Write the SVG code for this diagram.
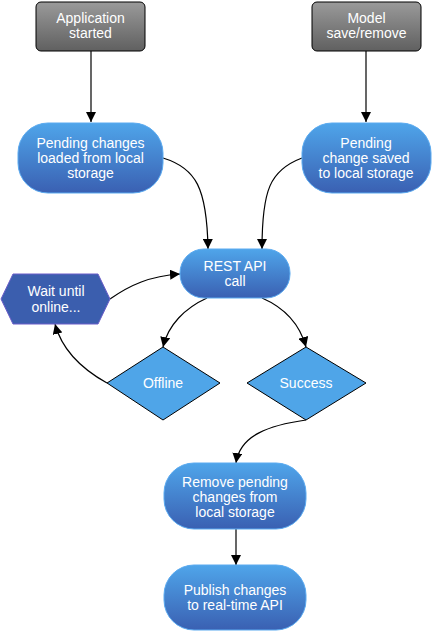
<svg xmlns="http://www.w3.org/2000/svg" width="432" height="631" viewBox="0 0 432 631">
<style>
.t{font-family:"Liberation Sans",Arial,sans-serif;font-size:14px;fill:#ffffff;text-anchor:middle}
.gray{fill:url(#gg);stroke:#000;stroke-width:1}
.blue{fill:url(#bg);stroke:#5aaaf0;stroke-width:1}
.dia{fill:#4fa5e8;stroke:#000;stroke-width:1}
.hex{fill:#3b5eae;stroke:#6a5cc8;stroke-width:1}
.c{fill:none;stroke:#000;stroke-width:1.2}
</style>
<defs>
<linearGradient id="gg" x1="0" y1="0" x2="0" y2="1"><stop offset="0" stop-color="#9a9a9a"/><stop offset="1" stop-color="#606060"/></linearGradient>
<linearGradient id="bg" x1="0" y1="0" x2="0" y2="1"><stop offset="0" stop-color="#4fa5ea"/><stop offset="1" stop-color="#3a60b2"/></linearGradient>
<marker id="ah" viewBox="0 0 10 10" refX="10" refY="5" markerWidth="10" markerHeight="10" markerUnits="userSpaceOnUse" orient="auto"><path d="M0,0 L10,5 L0,10 z" fill="#000"/></marker>
</defs>
<g id="connectors">
<path class="c" d="M91 51 L91 122" marker-end="url(#ah)"/>
<path class="c" d="M366 51 L366 122" marker-end="url(#ah)"/>
<path class="c" d="M163 158 C196 168 207 188 208 249" marker-end="url(#ah)"/>
<path class="c" d="M302 158 C270 170 262 190 262 249" marker-end="url(#ah)"/>
<path class="c" d="M207 298 C185 308 168 325 163 347" marker-end="url(#ah)"/>
<path class="c" d="M262 298 C285 308 300 325 306 347" marker-end="url(#ah)"/>
<path class="c" d="M107 383 C80 368 62 350 55 324" marker-end="url(#ah)"/>
<path class="c" d="M110 299 C130 285 150 276 180 274" marker-end="url(#ah)"/>
<path class="c" d="M306 420 C270 425 240 435 236 463" marker-end="url(#ah)"/>
<path class="c" d="M236 529 L236 565" stroke="#555" marker-end="url(#ah)"/>
</g>
<g id="app-started"><rect class="gray" x="36" y="2" width="109" height="49" rx="5"/><text class="t" x="90.5" y="23">Application</text><text class="t" x="90.5" y="38">started</text></g>
<g id="model-save"><rect class="gray" x="312" y="2" width="109" height="49" rx="5"/><text class="t" x="366.5" y="23">Model</text><text class="t" x="366.5" y="38">save/remove</text></g>
<g id="pending-loaded"><rect class="blue" x="18" y="123" width="145" height="70" rx="30"/><text class="t" x="90.5" y="148">Pending changes</text><text class="t" x="90.5" y="163">loaded from local</text><text class="t" x="90.5" y="178">storage</text></g>
<g id="pending-saved"><rect class="blue" x="302" y="123" width="129" height="70" rx="30"/><text class="t" x="366" y="148">Pending</text><text class="t" x="366" y="163">change saved</text><text class="t" x="366" y="178">to local storage</text></g>
<g id="rest-api"><rect class="blue" x="180" y="249" width="110" height="49" rx="24"/><text class="t" x="235" y="271">REST API</text><text class="t" x="235" y="286">call</text></g>
<g id="wait"><polygon class="hex" points="1,299 13,274 98,274 110,299 98,324 13,324"/><text class="t" x="56" y="296">Wait until</text><text class="t" x="56" y="312">online...</text></g>
<g id="offline"><polygon class="dia" points="107,383 163,347 220,383 163,420"/><text class="t" x="163" y="388">Offline</text></g>
<g id="success"><polygon class="dia" points="247,383 306,347 366,383 306,420"/><text class="t" x="306" y="388">Success</text></g>
<g id="remove"><rect class="blue" x="164" y="463" width="142" height="66" rx="30"/><text class="t" x="235" y="487">Remove pending</text><text class="t" x="235" y="502">changes from</text><text class="t" x="235" y="517">local storage</text></g>
<g id="publish"><rect class="blue" x="164" y="565" width="142" height="65" rx="30"/><text class="t" x="235" y="595">Publish changes</text><text class="t" x="235" y="610">to real-time API</text></g>
</svg>
